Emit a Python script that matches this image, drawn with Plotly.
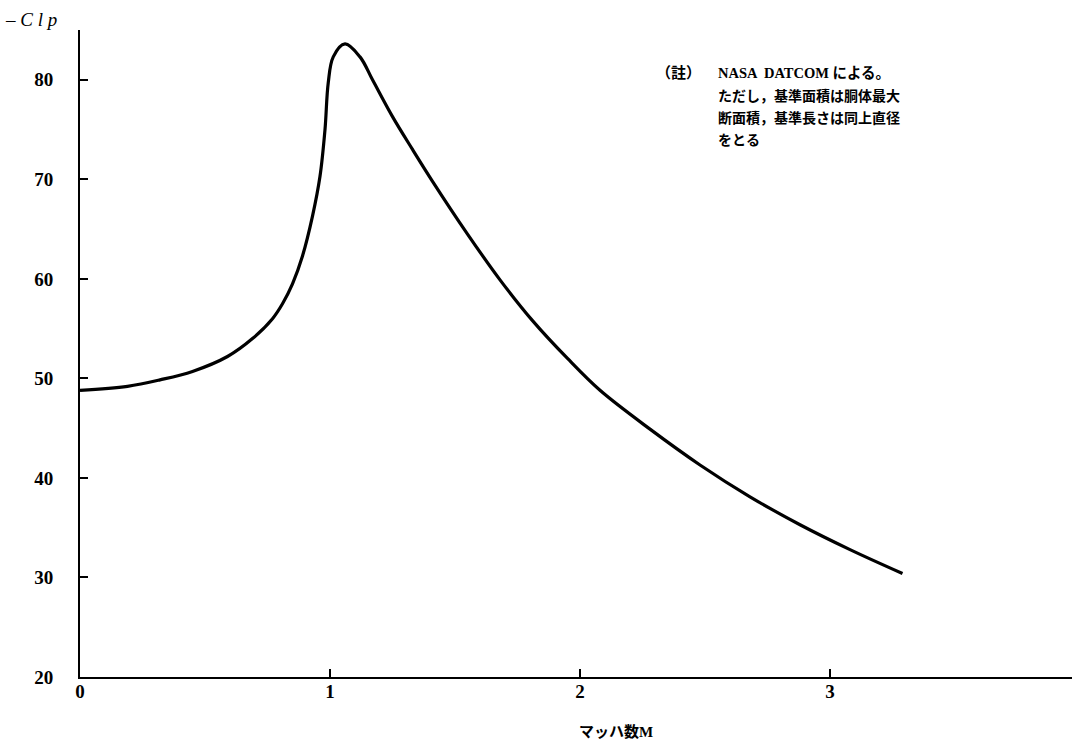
import plotly.graph_objects as go

mach = [0.0, 0.19, 0.32, 0.45, 0.59, 0.69, 0.77, 0.81, 0.85, 0.89, 0.93, 0.96,
        0.98, 0.993, 1.013, 1.06, 1.12, 1.17, 1.25, 1.33, 1.41, 1.55, 1.68,
        1.81, 1.95, 2.08, 2.28, 2.48, 2.68, 2.88, 3.08, 3.29]
clp = [48.8, 49.2, 49.85, 50.7, 52.2, 54.0, 56.0, 57.5, 59.5, 62.3, 66.3, 70.3,
       75.0, 79.7, 82.3, 83.6, 82.3, 80.0, 76.3, 73.0, 69.8, 64.5, 59.9,
       55.8, 52.0, 48.8, 44.9, 41.3, 38.1, 35.3, 32.8, 30.4]

x_ticks = [0, 1, 2, 3]
y_ticks = [20, 30, 40, 50, 60, 70, 80]

note_head = "（註）"
note_lines = ["NASA  DATCOM による。",
              "ただし，基準面積は胴体最大",
              "断面積，基準長さは同上直径",
              "をとる"]
x_title = "マッハ数M"
y_title = "– <i>C l p</i>"

W, H = 1072, 744
L, R, T, B = 80, 0, 30, 67
pw, ph = W - L - R, H - T - B

def px(x):
    return (x - L) / pw

def py(y):
    return (H - B - y) / ph

FONT = "Liberation Serif, Noto Sans CJK JP"

fig = go.Figure()
fig.add_trace(go.Scatter(x=mach, y=clp, mode="lines",
                         line=dict(color="black", width=3.2, shape="spline", smoothing=1.0),
                         hoverinfo="skip", showlegend=False))

axis_common = dict(showgrid=False, zeroline=False, showline=True, linecolor="black",
                   linewidth=2, ticks="inside", ticklen=8, tickcolor="black", tickwidth=1.5,
                   tickfont=dict(family=FONT, size=19, color="black", weight="bold"))

fig.update_xaxes(range=[0, pw / 250.0], tickvals=x_ticks, ticktext=[str(v) for v in x_ticks],
                 ticklabelstandoff=-4, **axis_common)
fig.update_yaxes(range=[20, 85], tickvals=y_ticks, ticktext=[str(v) for v in y_ticks],
                 ticklabelstandoff=21, **axis_common)

ann = []
ann.append(dict(text=note_head, x=px(654), y=py(73), xref="paper", yref="paper",
                xanchor="left", yanchor="middle", showarrow=False,
                font=dict(family=FONT, size=15, color="black", weight="bold")))
for i, line in enumerate(note_lines):
    ann.append(dict(text=line, x=px(716), y=py(73 + 22.5 * i), xref="paper", yref="paper",
                    xanchor="left", yanchor="middle", showarrow=False,
                    font=dict(family=FONT, size=14.5 if i == 0 else 14, color="black",
                              weight="bold")))
ann.append(dict(text=x_title, x=px(616), y=py(731), xref="paper", yref="paper",
                xanchor="center", yanchor="middle", showarrow=False,
                font=dict(family=FONT, size=15, color="black", weight="bold")))
ann.append(dict(text=y_title, x=px(3), y=py(19), xref="paper", yref="paper",
                xanchor="left", yanchor="middle", showarrow=False,
                font=dict(family=FONT, size=19, color="black")))

fig.update_layout(width=W, height=H, margin=dict(l=L, r=R, t=T, b=B),
                  paper_bgcolor="white", plot_bgcolor="white", annotations=ann)

fig.write_html("out.html")
